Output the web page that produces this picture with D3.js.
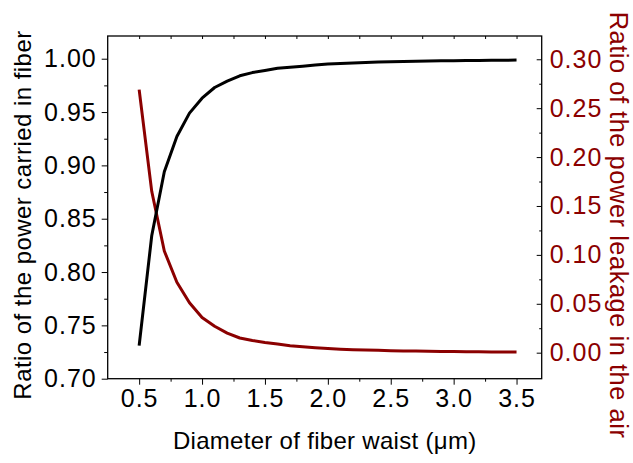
<!DOCTYPE html>
<html><head><meta charset="utf-8">
<script src="https://cdn.jsdelivr.net/npm/d3@7"></script>
<style>body{margin:0;background:#fff}svg{display:block}</style>
</head><body>
<svg id="c" width="633" height="463"></svg>
<script>
const diameter = [0.5,0.6,0.7,0.8,0.9,1.0,1.1,1.2,1.3,1.4,1.5,1.6,1.7,1.8,1.9,2.0,2.1,2.2,2.3,2.4,2.5,2.6,2.7,2.8,2.9,3.0,3.1,3.2,3.3,3.4,3.5];
const powerInFiber = [0.731,0.834,0.894,0.927,0.949,0.963,0.973,0.979,0.984,0.987,0.989,0.991,0.992,0.993,0.994,0.995,0.9955,0.996,0.9965,0.997,0.9972,0.9975,0.9977,0.9979,0.998,0.9982,0.9983,0.9984,0.9985,0.9986,0.9987];
const powerInAir = [0.269,0.165,0.104,0.072,0.051,0.036,0.027,0.020,0.015,0.0125,0.0105,0.0088,0.0072,0.0060,0.0050,0.0042,0.0036,0.0031,0.0027,0.0024,0.0021,0.0018,0.0016,0.0014,0.0012,0.0011,0.0010,0.0009,0.0008,0.0007,0.0006];
const xTicks = [0.5,1.0,1.5,2.0,2.5,3.0,3.5];
const leftTicks = [0.70,0.75,0.80,0.85,0.90,0.95,1.00];
const rightTicks = [0.00,0.05,0.10,0.15,0.20,0.25,0.30];
const xTitle = "Diameter of fiber waist (\u03bcm)";
const leftTitle = "Ratio of the power carried in fiber";
const rightTitle = "Ratio of the power leakage in the air";

const red = "#8b0000";
const L = 107.7, R = 541.7, T = 36, B = 378.7;
const font = "'Liberation Sans', Arial, sans-serif";
const fs = 25;
const svg = d3.select("#c");

const x = d3.scaleLinear().domain([0.25, 3.7]).range([L, R]);
const yL = d3.scaleLinear().domain([0.70, 1.0213]).range([B, T]);
const yR = d3.scaleLinear().domain([-0.0266, 0.3238]).range([B, T]);

const minorX = d3.range(0.5, 3.51, 0.25).filter(v => Math.abs(v*2 - Math.round(v*2)) > 1e-6);
const minorL = d3.range(0.725, 1.0, 0.05);
const minorR = d3.range(0.025, 0.3, 0.05);

function styleAxis(g, color) {
  g.select(".domain").remove();
  g.selectAll(".tick line").attr("stroke", "#000").attr("stroke-width", 1);
  g.selectAll(".tick text").attr("font-family", font).attr("font-size", fs)
    .attr("letter-spacing", 1).attr("fill", color);
}

// bottom axis
const gb = svg.append("g").attr("transform", `translate(0,${B})`)
  .call(d3.axisBottom(x).tickValues(xTicks).tickFormat(d3.format(".1f")).tickSize(6).tickPadding(5));
styleAxis(gb, "#000");
svg.append("g").attr("transform", `translate(0,${B})`)
  .call(d3.axisBottom(x).tickValues(minorX).tickFormat("").tickSize(3))
  .call(g => { g.select(".domain").remove(); g.selectAll("line").attr("stroke", "#000"); });

// top axis (inward ticks)
svg.append("g").attr("transform", `translate(0,${T})`)
  .call(d3.axisTop(x).tickValues(d3.range(0.5, 3.51, 0.25)).tickFormat("").tickSize(-3))
  .call(g => { g.select(".domain").remove(); g.selectAll("line").attr("stroke", "#000"); });

// left axis
const gl = svg.append("g").attr("transform", `translate(${L},0)`)
  .call(d3.axisLeft(yL).tickValues(leftTicks).tickFormat(d3.format(".2f")).tickSize(6).tickPadding(5));
styleAxis(gl, "#000");
svg.append("g").attr("transform", `translate(${L},0)`)
  .call(d3.axisLeft(yL).tickValues(minorL).tickFormat("").tickSize(3.5))
  .call(g => { g.select(".domain").remove(); g.selectAll("line").attr("stroke", "#000"); });

// right axis (inward ticks)
const gr = svg.append("g").attr("transform", `translate(${R},0)`)
  .call(d3.axisRight(yR).tickValues(rightTicks).tickFormat(d3.format(".2f")).tickSize(-5).tickPadding(8));
styleAxis(gr, red);
svg.append("g").attr("transform", `translate(${R},0)`)
  .call(d3.axisRight(yR).tickValues(minorR).tickFormat("").tickSize(-2.5))
  .call(g => { g.select(".domain").remove(); g.selectAll("line").attr("stroke", "#000"); });

// frame
svg.append("rect").attr("x", L).attr("y", T).attr("width", R - L).attr("height", B - T)
  .attr("fill", "none").attr("stroke", "#000").attr("stroke-width", 1.3);

// lines
const lineL = d3.line().x((d, i) => x(diameter[i])).y(d => yL(d));
const lineR = d3.line().x((d, i) => x(diameter[i])).y(d => yR(d));
svg.append("path").datum(powerInAir).attr("d", lineR).attr("fill", "none")
  .attr("stroke", red).attr("stroke-width", 3).attr("stroke-linejoin", "round");
svg.append("path").datum(powerInFiber).attr("d", lineL).attr("fill", "none")
  .attr("stroke", "#000").attr("stroke-width", 3).attr("stroke-linejoin", "round");

// titles
svg.append("text").attr("x", (L + R) / 2).attr("y", 449).attr("text-anchor", "middle")
  .attr("font-family", font).attr("font-size", 24).attr("letter-spacing", 0.3).attr("fill", "#000").text(xTitle);
svg.append("text").attr("transform", `translate(31,215) rotate(-90)`).attr("text-anchor", "middle")
  .attr("font-family", font).attr("font-size", 24).attr("letter-spacing", 0.45).attr("fill", "#000").text(leftTitle);
svg.append("text").attr("transform", `translate(610,225) rotate(90)`).attr("text-anchor", "middle")
  .attr("font-family", font).attr("font-size", 25.5).attr("letter-spacing", 0.5).attr("fill", red).text(rightTitle);
</script>
</body></html>
